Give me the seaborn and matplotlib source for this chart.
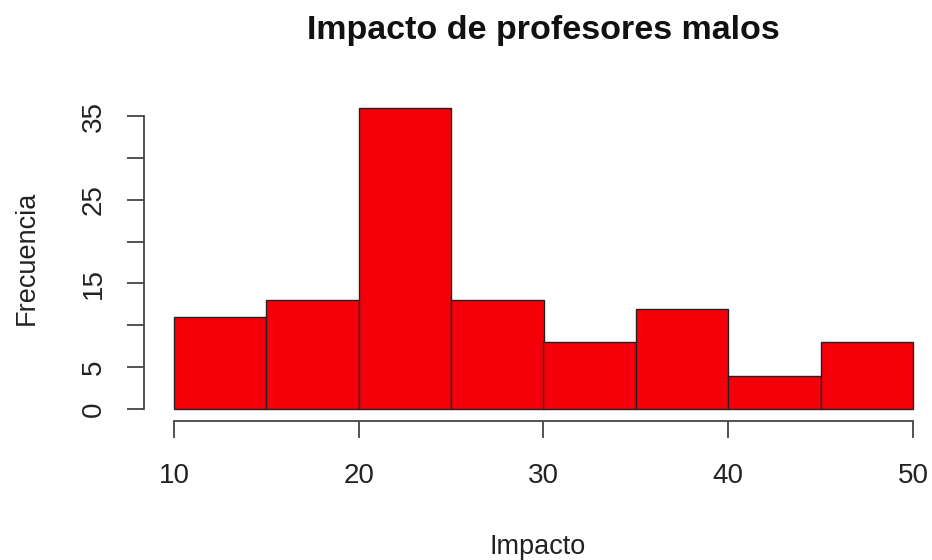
import matplotlib
matplotlib.use("Agg")
import matplotlib.pyplot as plt
import seaborn as sns
import numpy as np

# Histogram bins and frequencies
bin_edges = [10, 15, 20, 25, 30, 35, 40, 45, 50]
frequencies = [11, 13, 36, 13, 8, 12, 4, 8]
y_ticks = [0, 5, 10, 15, 20, 25, 30, 35]
y_tick_labels = ["0", "5", "", "15", "", "25", "", "35"]
x_ticks = [10, 20, 30, 40, 50]

sns.set_style("white")
plt.rcParams["font.family"] = ["Liberation Sans", "DejaVu Sans"]

fig = plt.figure(figsize=(9.32, 5.6), dpi=100)
ax = fig.add_axes([144 / 932, (560 - 421) / 560, (932 - 144) / 932, (421 - 95.6) / 560])

mids = [(a + b) / 2 for a, b in zip(bin_edges[:-1], bin_edges[1:])]
sns.histplot(x=mids, weights=frequencies, bins=bin_edges, ax=ax,
             color="#F5000A", alpha=1.0, edgecolor="#222222", linewidth=1.0)

ax.set_xlim(10 - 30 / 18.475, 50 + 19 / 18.475)
ax.set_ylim(-1.43, 37.44)

for s in ["top", "right"]:
    ax.spines[s].set_visible(False)
for s in ["left", "bottom"]:
    ax.spines[s].set_color("#444444")
    ax.spines[s].set_linewidth(1.3)
ax.spines["left"].set_bounds(0, 35)
ax.spines["bottom"].set_bounds(10, 50)

ax.set_yticks(y_ticks)
ax.set_yticklabels(y_tick_labels, rotation=90, va="center")
ax.set_xticks(x_ticks)
ax.tick_params(axis="both", direction="out", length=12, width=1.3, color="#444444",
               labelsize=20, labelcolor="#222222", left=True, bottom=True)
ax.tick_params(axis="y", pad=15)
ax.tick_params(axis="x", pad=18)

ax.set_xlabel("Impacto", fontsize=19.5, color="#222222", labelpad=33)
ax.set_ylabel("Frecuencia", fontsize=19.5, color="#222222", labelpad=29)
fig.text(543 / 932, 1 - 39 / 560, "Impacto de profesores malos", fontsize=24.5,
         fontweight="bold", ha="center", va="baseline", color="#111111")

fig.savefig("out.png", dpi=100)
